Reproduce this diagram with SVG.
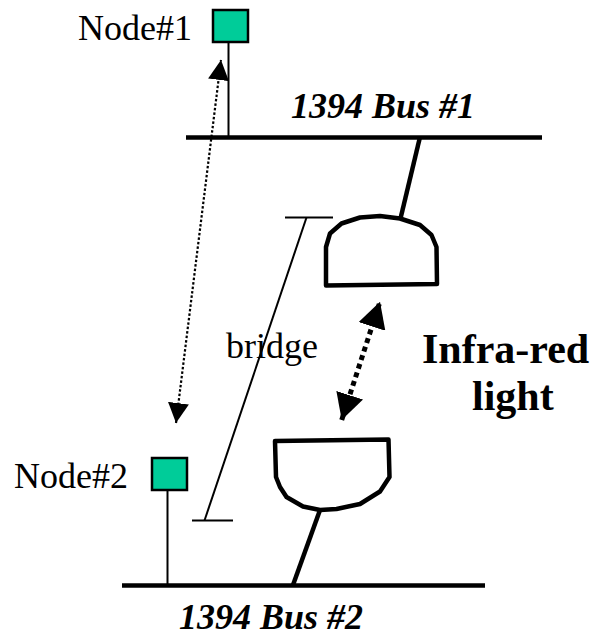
<svg xmlns="http://www.w3.org/2000/svg" width="600" height="637" viewBox="0 0 600 637">
<style>
text{font-family:'Liberation Serif','Times New Roman',Times,'DejaVu Serif',serif;fill:#000}
.lbl{font-size:36px}
.bus{font-size:36px;font-weight:bold;font-style:italic}
.ir{font-size:42px;font-weight:bold}
.node{fill:#00CC99;stroke:#000;stroke-width:2.5}
.busline{stroke:#000;stroke-width:4.5;fill:none}
.thin{stroke:#000;stroke-width:2;fill:none}
.bshape{fill:#fff;stroke:#000;stroke-width:4.5;stroke-linejoin:round}
</style>
<defs>
<marker id="ah" viewBox="0 0 20 21" markerWidth="20" markerHeight="21" refX="20" refY="10.5" orient="auto-start-reverse" markerUnits="userSpaceOnUse">
<path d="M0,0 L20,10.5 L0,21 z" fill="#000"/>
</marker>
<marker id="ahb" viewBox="0 0 26 28" markerWidth="26" markerHeight="28" refX="26" refY="14" orient="auto-start-reverse" markerUnits="userSpaceOnUse">
<path d="M0,0 L26,14 L0,28 z" fill="#000"/>
</marker>
</defs>
<g id="bus1">
<line class="busline" x1="186" y1="137.5" x2="542" y2="137.5"/>
<text class="bus" x="291" y="118" font-family="Liberation Serif">1394 Bus #1</text>
</g>
<g id="bus2">
<line class="busline" x1="122" y1="585.5" x2="485" y2="585.5"/>
<text class="bus" x="179" y="629" font-family="Liberation Serif">1394 Bus #2</text>
</g>
<g id="node1">
<rect class="node" x="213" y="10" width="35" height="32"/>
<text class="lbl" x="78" y="40" font-family="Liberation Serif">Node#1</text>
</g>
<g id="node2">
<rect class="node" x="152" y="458" width="35" height="32"/>
<text class="lbl" x="14" y="488" font-family="Liberation Serif">Node#2</text>
</g>
<g id="bridge">
<path class="bshape" d="M326,285.5 L326,247 L330,233.5 L341.5,223.5 L360,217.5 L380,216 L400,218.5 L420,225 L431.5,235 L436.5,247 L437,284 Z"/>
<path class="bshape" d="M275,441 L388.5,439.5 L389.5,477 L380,491.5 L360,504 L336.5,509 L320,510 L303,506.5 L286.5,497 L280,487 L276,477 Z"/>
<line class="thin" x1="285" y1="217.5" x2="333" y2="217.5"/>
<line class="thin" x1="192" y1="520.5" x2="233" y2="520.5"/>
<line class="thin" x1="306.5" y1="217.5" x2="204.5" y2="520.5" stroke-width="1.6"/>
<text class="lbl" x="226" y="358" font-family="Liberation Serif">bridge</text>
</g>
<g id="infrared">
<text class="ir" x="422" y="363" font-family="Liberation Serif">Infra-red</text>
<text class="ir" x="472" y="410" font-family="Liberation Serif">light</text>
</g>
<g id="connectors">
<line class="thin" x1="228.5" y1="42" x2="228.5" y2="137"/>
<line class="thin" x1="167.5" y1="490" x2="167.5" y2="585"/>
<line class="busline" x1="420" y1="137" x2="400.5" y2="218.5" stroke-width="4"/>
<line class="busline" x1="320" y1="510" x2="293" y2="585" stroke-width="4"/>
<line x1="176" y1="423" x2="221" y2="60" stroke="#000" stroke-width="2.2" stroke-dasharray="2.5,2" marker-start="url(#ah)" marker-end="url(#ah)"/>
<line x1="341.7" y1="420" x2="380" y2="301.7" stroke="#000" stroke-width="5" stroke-dasharray="5,4" marker-start="url(#ahb)" marker-end="url(#ahb)"/>
</g>
</svg>
